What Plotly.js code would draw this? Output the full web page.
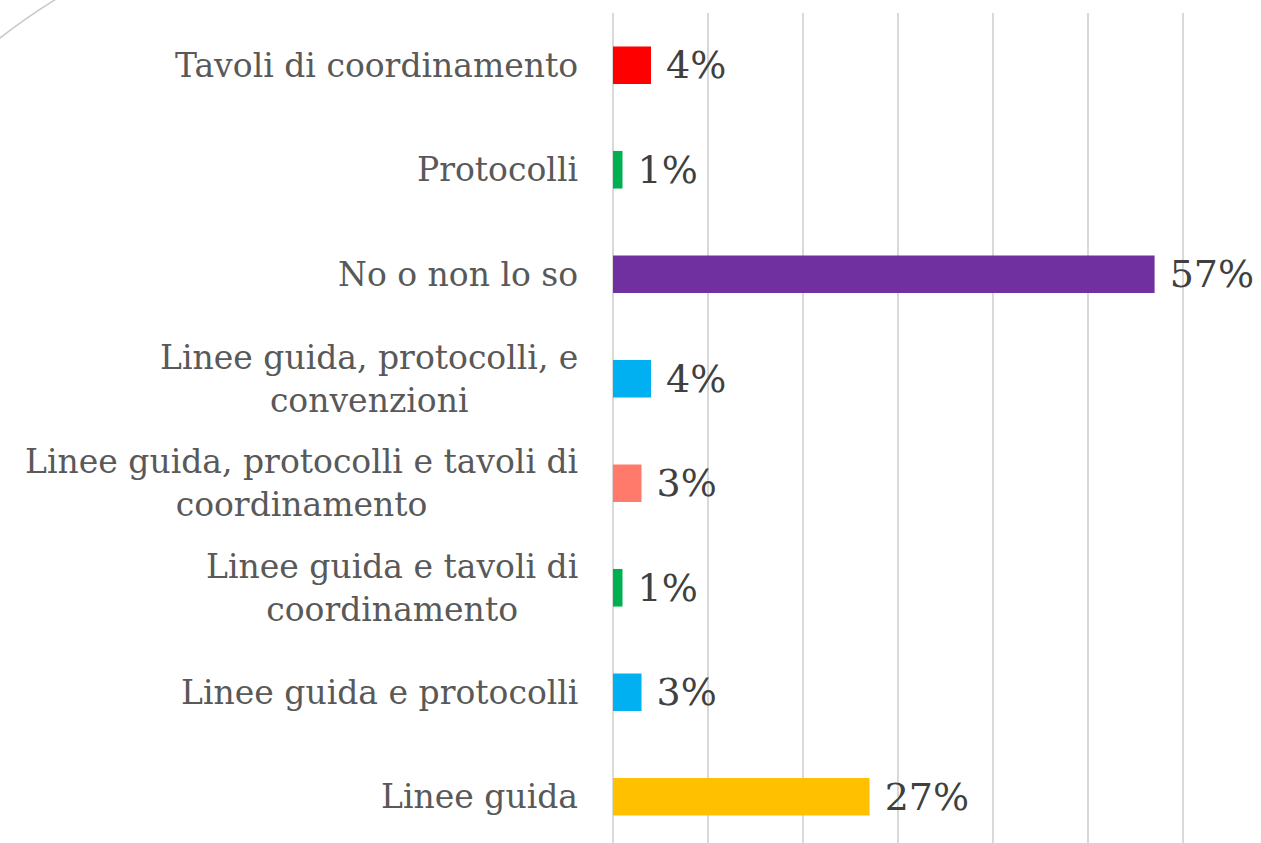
<!DOCTYPE html>
<html>
<head>
<meta charset="utf-8">
<script src="https://cdn.plot.ly/plotly-3.0.1.min.js"></script>
<style>html,body{margin:0;padding:0;overflow:hidden;background:#fff;}</style>
</head>
<body>
<div id="chart" style="width:1261px;height:849px;"></div>
<script>
const categories = [
  "Linee guida",
  "Linee guida e protocolli",
  "Linee guida e tavoli di<br>coordinamento",
  "Linee guida, protocolli e tavoli di<br>coordinamento",
  "Linee guida, protocolli, e<br>convenzioni",
  "No o non lo so",
  "Protocolli",
  "Tavoli di coordinamento"
];
const values = [0.27, 0.03, 0.01, 0.03, 0.04, 0.57, 0.01, 0.04];
const colors = ["#FFC000", "#00B0F0", "#00B050", "#FF7A6A", "#00B0F0", "#7030A0", "#00B050", "#FF0000"];

const labelFont = "DejaVu Serif, Liberation Serif, serif";

const trace = {
  type: "bar",
  orientation: "h",
  y: categories,
  x: values,
  marker: {color: colors},
  width: 0.36,
  texttemplate: "\u00A0%{x:.0%}",
  textposition: "outside",
  constraintext: "none",
  cliponaxis: false,
  textfont: {family: labelFont, size: 38, color: "#404040"},
  hoverinfo: "skip"
};

const annotations = categories.map((c) => ({
  xref: "paper", yref: "y",
  x: 0, y: c,
  xanchor: "right", yanchor: "middle",
  xshift: -33,
  align: "center",
  text: c,
  showarrow: false,
  font: {family: labelFont, size: 33, color: "#595959"}
}));

const layout = {
  width: 1261, height: 849,
  margin: {l: 613, r: 76, t: 13, b: 0},
  paper_bgcolor: "#ffffff",
  plot_bgcolor: "#ffffff",
  showlegend: false,
  xaxis: {
    range: [0, 0.602], dtick: 0.1, showticklabels: false,
    showgrid: true, gridcolor: "#D9D9D9", gridwidth: 1.5,
    zeroline: true, zerolinecolor: "#D9D9D9", zerolinewidth: 1.5,
    showline: false, fixedrange: true
  },
  yaxis: {
    showticklabels: false, showgrid: false, zeroline: false, showline: false,
    range: [-0.5, 7.5], fixedrange: true
  },
  annotations: annotations,
  shapes: [{
    type: "path", xref: "paper", yref: "paper",
    path: "M -1.081 0.965 Q -1.0281 0.994 -0.968 1.019",
    line: {color: "#C8C8C8", width: 1.5}
  }]
};

Plotly.newPlot("chart", [trace], layout, {displayModeBar: false, staticPlot: true});
</script>
</body>
</html>
